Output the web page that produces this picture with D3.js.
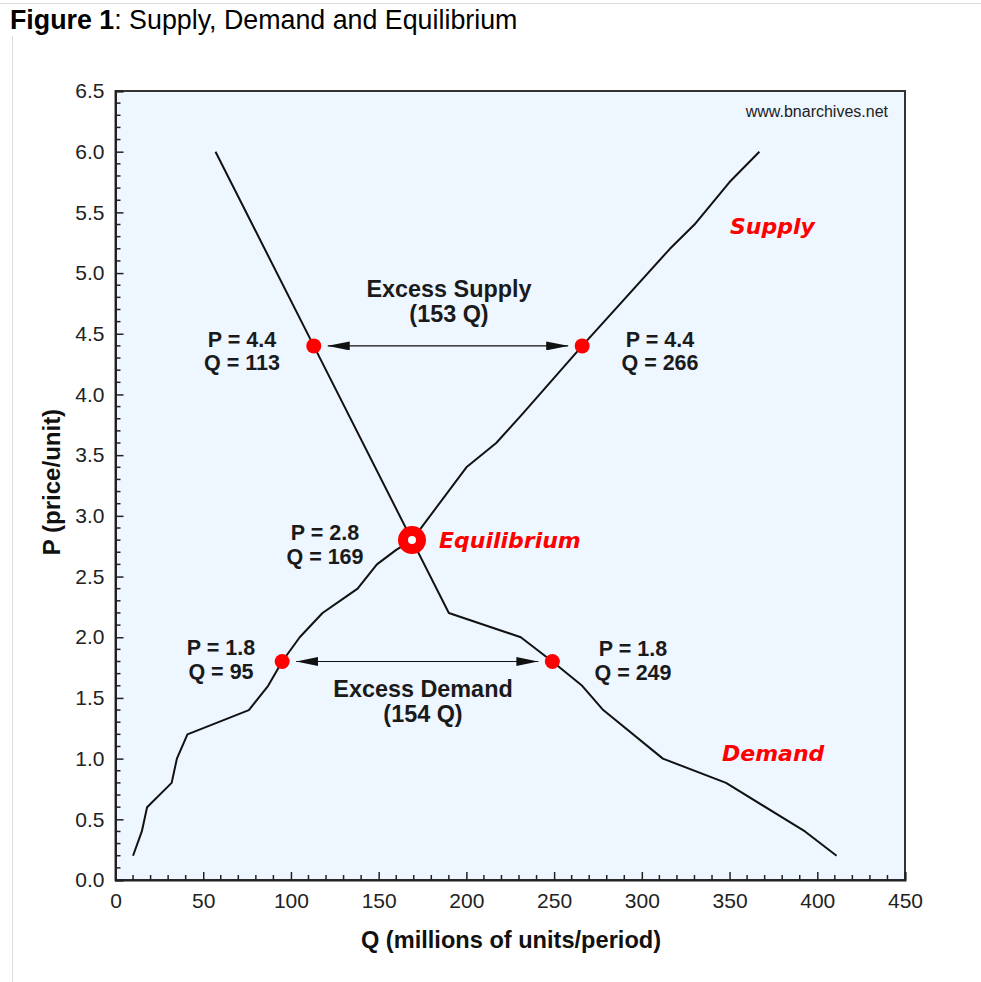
<!DOCTYPE html>
<html><head><meta charset="utf-8">
<script src="https://cdn.jsdelivr.net/npm/d3@7"></script>
<style>body{margin:0;background:#fff;}svg{display:block;}</style>
</head><body>
<script>
// ---- data ----
const supplyQ = [10,15,18,32,35,41,76,87,95,105,118,130,138,149,160,169,200,217,232,266,316,330,350,367];
const supplyP = [0.2,0.4,0.6,0.8,1.0,1.2,1.4,1.6,1.8,2.0,2.2,2.32,2.4,2.6,2.72,2.8,3.4,3.6,3.84,4.4,5.2,5.4,5.75,6.0];
const demandQ = [57,113,169,190,231,249,266,278,312,348,393,411];
const demandP = [6.0,4.4,2.8,2.2,2.0,1.8,1.6,1.4,1.0,0.8,0.4,0.2];
const markerQ = [113,266,95,249];
const markerP = [4.4,4.4,1.8,1.8];
const equilibrium = {q:169, p:2.8};
const xTicks = [0,50,100,150,200,250,300,350,400,450];
const yTicks = [0,0.5,1,1.5,2,2.5,3,3.5,4,4.5,5,5.5,6,6.5];
const xMinor = d3.range(0,451,10);
const yMinor = d3.range(0,66,1).map(d=>d/10);

const W=981,H=982;
const svg=d3.select("body").append("svg").attr("width",W).attr("height",H);
const x=d3.scaleLinear().domain([0,450]).range([115.5,905]);
const y=d3.scaleLinear().domain([0,6.5]).range([880,91]);
const F="'Liberation Sans', Arial, sans-serif";

// page border
svg.append("line").attr("x1",0).attr("x2",W).attr("y1",3.5).attr("y2",3.5).attr("stroke","#ddd");
svg.append("line").attr("x1",12.5).attr("x2",12.5).attr("y1",36).attr("y2",H).attr("stroke","#ddd");

// title
const t=svg.append("text").attr("x",10).attr("y",29).attr("font-family",F).attr("font-size",26.8).attr("fill","#000");
t.append("tspan").attr("font-weight","bold").text("Figure 1");
t.append("tspan").text(": Supply, Demand and Equilibrium");

// plot background
svg.append("rect").attr("x",x(0)).attr("y",y(6.5)).attr("width",x(450)-x(0)).attr("height",y(0)-y(6.5))
  .attr("fill","#eef6ff").attr("stroke","#333").attr("stroke-width",2);

// axes
const xAxis=d3.axisBottom(x).tickValues(xTicks).tickSize(-8).tickPadding(21).tickFormat(d3.format("d"));
const gx=svg.append("g").attr("transform",`translate(0,${y(0)})`).call(xAxis);
const yAxis=d3.axisLeft(y).tickValues(yTicks).tickSize(-8).tickPadding(11).tickFormat(d3.format(".1f"));
const gy=svg.append("g").attr("transform",`translate(${x(0)},0)`).call(yAxis);
[gx,gy].forEach(g=>{
  g.select(".domain").attr("stroke","#222").attr("stroke-width",2);
  g.selectAll(".tick line").attr("stroke","#222").attr("stroke-width",1.5);
  g.selectAll(".tick text").attr("font-family",F).attr("font-size",21).attr("fill","#222");
});
gx.selectAll(".tick text").attr("dy","0.35em");
// minor ticks
svg.append("g").selectAll("line").data(xMinor.filter(d=>d%50!==0)).join("line")
  .attr("x1",d=>x(d)).attr("x2",d=>x(d)).attr("y1",y(0)).attr("y2",y(0)-5).attr("stroke","#222").attr("stroke-width",1.5);
svg.append("g").selectAll("line").data(yMinor.filter(d=>Math.round(d*10)%5!==0)).join("line")
  .attr("x1",x(0)).attr("x2",x(0)+5).attr("y1",d=>y(d)).attr("y2",d=>y(d)).attr("stroke","#222").attr("stroke-width",1.5);

// axis titles
svg.append("text").attr("x",511).attr("y",948).attr("text-anchor","middle").attr("font-family",F)
  .attr("font-weight","bold").attr("font-size",23.6).attr("fill","#111").text("Q (millions of units/period)");
svg.append("text").attr("transform","translate(60,482) rotate(-90)").attr("text-anchor","middle").attr("font-family",F)
  .attr("font-weight","bold").attr("font-size",24).attr("fill","#111").text("P (price/unit)");

// watermark
svg.append("text").attr("x",888).attr("y",117).attr("text-anchor","end").attr("font-family",F)
  .attr("font-size",16).attr("fill","#222").text("www.bnarchives.net");

// curves
const line=d3.line().x(d=>x(d[0])).y(d=>y(d[1]));
svg.append("path").datum(supplyQ.map((q,i)=>[q,supplyP[i]])).attr("d",line)
  .attr("fill","none").attr("stroke","#111").attr("stroke-width",2).attr("stroke-linejoin","round");
svg.append("path").datum(demandQ.map((q,i)=>[q,demandP[i]])).attr("d",line)
  .attr("fill","none").attr("stroke","#111").attr("stroke-width",2).attr("stroke-linejoin","round");

// arrows
const defs=svg.append("defs");
defs.append("marker").attr("id","ah").attr("viewBox","0 0 22 9").attr("refX",22).attr("refY",4.5)
  .attr("markerWidth",22).attr("markerHeight",9).attr("markerUnits","userSpaceOnUse").attr("orient","auto-start-reverse")
  .append("path").attr("d","M0,0 L22,4.5 L0,9 Z").attr("fill","#111");
const arrows=[[markerQ[0],markerQ[1],4.4],[markerQ[2],markerQ[3],1.8]];
svg.append("g").selectAll("line").data(arrows).join("line")
  .attr("x1",d=>x(d[0])+14).attr("x2",d=>x(d[1])-14).attr("y1",d=>y(d[2])).attr("y2",d=>y(d[2]))
  .attr("stroke","#111").attr("stroke-width",1.2).attr("marker-start","url(#ah)").attr("marker-end","url(#ah)");

// markers
svg.append("g").selectAll("circle").data(markerQ.map((q,i)=>[q,markerP[i]])).join("circle")
  .attr("cx",d=>x(d[0])).attr("cy",d=>y(d[1])).attr("r",7.5).attr("fill","#ff0000");
svg.append("circle").attr("cx",x(equilibrium.q)).attr("cy",y(equilibrium.p)).attr("r",14).attr("fill","#ff0000");
svg.append("circle").attr("cx",x(equilibrium.q)).attr("cy",y(equilibrium.p)).attr("r",4).attr("fill","#fff");

// labels
function two(cx,yb,l1,l2,size,gap){
  const g=svg.append("g").attr("font-family",F).attr("font-weight","bold").attr("font-size",size).attr("fill","#1a1a1a").attr("text-anchor","middle");
  g.append("text").attr("x",cx).attr("y",yb).text(l1);
  g.append("text").attr("x",cx).attr("y",yb+gap).text(l2);
}
two(242,346.5,"P = 4.4","Q = 113",21.5,23.5);
two(660,346.5,"P = 4.4","Q = 266",21.5,23.5);
two(325,540,"P = 2.8","Q = 169",21.5,23.5);
two(221,655,"P = 1.8","Q = 95",21.5,23.5);
two(633,656,"P = 1.8","Q = 249",21.5,23.5);
two(449,297,"Excess Supply","(153 Q)",23.4,25);
two(423,697,"Excess Demand","(154 Q)",23.4,25);

const RF="'DejaVu Sans', Verdana, sans-serif";
[["Supply",730,234],["Equilibrium",439,548],["Demand",722,761]].forEach(d=>{
  svg.append("text").attr("x",d[1]).attr("y",d[2]).attr("font-family",RF).attr("font-weight","bold")
    .attr("font-style","italic").attr("font-size",22).attr("fill","#ff0000").text(d[0]);
});
</script>
</body></html>
